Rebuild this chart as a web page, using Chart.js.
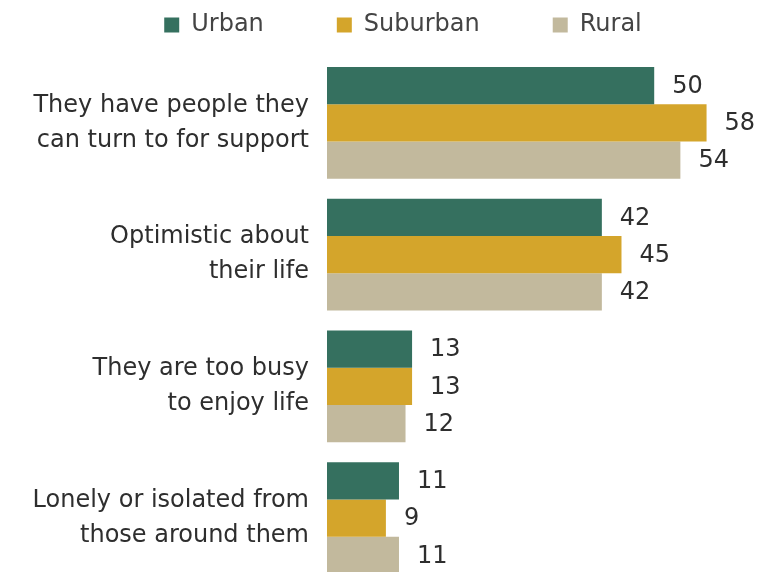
<!DOCTYPE html>
<html>
<head>
<meta charset="utf-8">
<script src="https://cdn.jsdelivr.net/npm/chart.js@4/dist/chart.umd.min.js"></script>
<style>
  html, body { margin: 0; padding: 0; overflow: hidden; background: #ffffff; }
  #wrap { width: 772px; height: 584px; position: relative; }
</style>
</head>
<body>
<div id="wrap"><canvas id="c"></canvas></div>
<script>
const categories = [
  ["They have people they", "can turn to for support"],
  ["Optimistic about", "their life"],
  ["They are too busy", "to enjoy life"],
  ["Lonely or isolated from", "those around them"]
];
const seriesNames = ["Urban", "Suburban", "Rural"];
const urban = [50, 42, 13, 11];
const suburban = [58, 45, 13, 9];
const rural = [54, 42, 12, 11];
const colors = ["#35705f", "#d4a52b", "#c2b99d"];

const FONT = "'DejaVu Sans', sans-serif";
const TEXT = "#2e2e2e";

const valueLabels = {
  id: "valueLabels",
  afterDatasetsDraw(chart) {
    const ctx = chart.ctx;
    ctx.save();
    ctx.font = "24px " + FONT;
    ctx.fillStyle = TEXT;
    ctx.textAlign = "left";
    ctx.textBaseline = "middle";
    chart.data.datasets.forEach((ds, i) => {
      const meta = chart.getDatasetMeta(i);
      meta.data.forEach((bar, j) => {
        ctx.fillText(String(ds.data[j]), bar.x + 18, bar.y + 1);
      });
    });
    ctx.restore();
  }
};

// Nudge the legend block to sit where the reference places it
const legendPlacement = {
  id: "legendPlacement",
  afterLayout(chart) {
    const lg = chart.legend;
    if (!lg) return;
    lg.left = 34;
    lg.top = -60;
  }
};

new Chart(document.getElementById("c"), {
  type: "bar",
  data: {
    labels: categories,
    datasets: [
      { label: seriesNames[0], data: urban, backgroundColor: colors[0] },
      { label: seriesNames[1], data: suburban, backgroundColor: colors[1] },
      { label: seriesNames[2], data: rural, backgroundColor: colors[2] }
    ]
  },
  options: {
    indexAxis: "y",
    responsive: true,
    maintainAspectRatio: false,
    animation: false,
    layout: { padding: 0 },
    datasets: { bar: { categoryPercentage: 0.85, barPercentage: 1.0, borderWidth: 0 } },
    plugins: {
      legend: {
        position: "top",
        align: "center",
        maxHeight: 45,
        labels: {
          boxWidth: 15,
          boxHeight: 15,
          padding: 73,
          color: "#444444",
          font: { family: FONT, size: 24 }
        }
      },
      tooltip: { enabled: false }
    },
    scales: {
      x: {
        position: "top",
        min: 0,
        max: 68,
        display: true,
        grid: { display: false, drawTicks: false },
        border: { display: false },
        ticks: { display: false },
        afterFit(scale) { scale.height = 12; }
      },
      y: {
        grid: { display: false, drawTicks: false },
        border: { display: false },
        ticks: {
          color: TEXT,
          padding: 18,
          font: { family: FONT, size: 24, lineHeight: 1.45 }
        },
        afterFit(scale) {
          scale.width = 327;
          scale.paddingTop = 0;
          scale.paddingBottom = 0;
        }
      }
    }
  },
  plugins: [valueLabels, legendPlacement]
});
</script>
</body>
</html>
